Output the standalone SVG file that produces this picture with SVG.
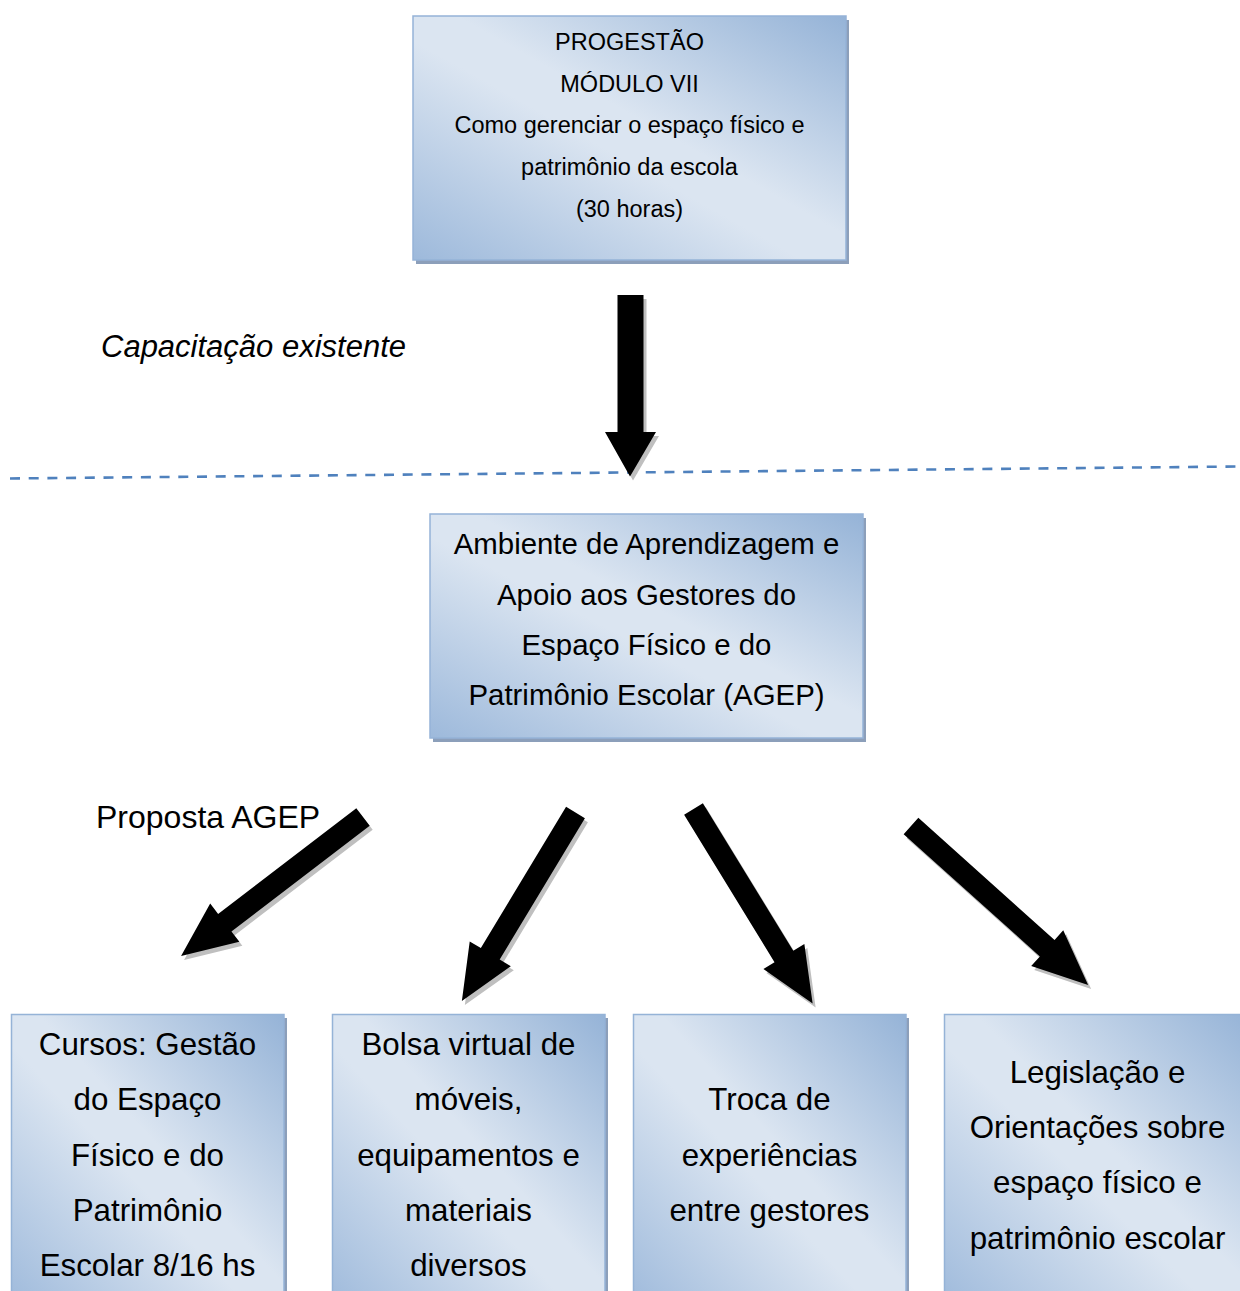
<svg xmlns="http://www.w3.org/2000/svg" xmlns:xlink="http://www.w3.org/1999/xlink" width="1240" height="1291" viewBox="0 0 1240 1291">
  <style>
    text { font-family: "Liberation Sans", Arial, sans-serif; fill: #000; text-anchor: middle; }
    .t1 { font-size: 23.5px; }
    .t2 { font-size: 29.4px; }
    .t3 { font-size: 31.3px; }
    .lbl { font-size: 31px; text-anchor: start; }
    .box { fill: url(#grad); stroke: #95B3D7; stroke-width: 1.5; }
    .shadow { fill: #8C9FBA; }
    .arrow { fill: #000; }
    .ashadow { fill: #BFBFBF; }
  </style>
  <defs>
    <linearGradient id="grad" x1="1" y1="0" x2="0" y2="1">
      <stop offset="0" stop-color="#95B3D7"/>
      <stop offset="0.45" stop-color="#DBE5F1"/>
      <stop offset="0.55" stop-color="#DBE5F1"/>
      <stop offset="1" stop-color="#9DB9DB"/>
    </linearGradient>
    <polygon id="a-main" points="617.5,295 643.5,295 643.5,432 656,432 630,476.5 605,432 617.5,432"/>
    <polygon id="a1" transform="translate(363,817) rotate(142.6)" points="0,-11 174,-11 174,-24 229,0 174,24 174,11 0,11"/>
    <polygon id="a2" transform="translate(575.5,812.5) rotate(121.1)" points="0,-11 165,-11 165,-24 220,0 165,24 165,11 0,11"/>
    <polygon id="a3" transform="translate(693.5,809) rotate(58.5)" points="0,-11 173,-11 173,-24 228,0 173,24 173,11 0,11"/>
    <polygon id="a4" transform="translate(911,826) rotate(41.9)" points="0,-11 183,-11 183,-24 238,0 183,24 183,11 0,11"/>
  </defs>

  <rect width="1240" height="1291" fill="#FFFFFF"/>

  <!-- separator -->
  <line x1="10" y1="478.5" x2="1240" y2="466.5" stroke="#4F81BD" stroke-width="2.6" stroke-dasharray="10 8.7"/>

  <!-- connectors -->
  <g id="connectors">
    <g transform="translate(3,4)" class="ashadow">
      <use xlink:href="#a-main"/>
      <use xlink:href="#a1"/>
      <use xlink:href="#a2"/>
      <use xlink:href="#a3"/>
      <use xlink:href="#a4"/>
    </g>
    <g class="arrow">
      <use xlink:href="#a-main"/>
      <use xlink:href="#a1"/>
      <use xlink:href="#a2"/>
      <use xlink:href="#a3"/>
      <use xlink:href="#a4"/>
    </g>
  </g>

  <!-- labels -->
  <text class="lbl" x="101" y="357" font-style="italic">Capacitação existente</text>
  <text class="lbl" x="96" y="828" style="font-size:32px">Proposta AGEP</text>

  <g id="node-progestao">
    <rect class="shadow" x="416" y="20" width="433" height="244"/>
    <rect class="box" x="413" y="16" width="433" height="244"/>
    <text class="t1" x="629.5" y="50">PROGESTÃO</text>
    <text class="t1" x="629.5" y="91.7">MÓDULO VII</text>
    <text class="t1" x="629.5" y="133.4">Como gerenciar o espaço físico e</text>
    <text class="t1" x="629.5" y="175.1">patrimônio da escola</text>
    <text class="t1" x="629.5" y="216.8">(30 horas)</text>
  </g>

  <g id="node-agep">
    <rect class="shadow" x="433" y="518" width="433" height="224"/>
    <rect class="box" x="430" y="514" width="433" height="224"/>
    <text class="t2" x="646.5" y="554">Ambiente de Aprendizagem e</text>
    <text class="t2" x="646.5" y="604.5">Apoio aos Gestores do</text>
    <text class="t2" x="646.5" y="654.8">Espaço Físico e do</text>
    <text class="t2" x="646.5" y="705">Patrimônio Escolar (AGEP)</text>
  </g>

  <g id="node-cursos">
    <rect class="shadow" x="14.5" y="1018" width="272.5" height="300"/>
    <rect class="box" x="11.5" y="1014.5" width="272.5" height="300"/>
    <text class="t3" x="147.5" y="1055">Cursos: Gestão</text>
    <text class="t3" x="147.5" y="1110.3">do Espaço</text>
    <text class="t3" x="147.5" y="1165.5">Físico e do</text>
    <text class="t3" x="147.5" y="1220.8">Patrimônio</text>
    <text class="t3" x="147.5" y="1276">Escolar 8/16 hs</text>
  </g>

  <g id="node-bolsa">
    <rect class="shadow" x="335.5" y="1018" width="272.5" height="300"/>
    <rect class="box" x="332.5" y="1014.5" width="272.5" height="300"/>
    <text class="t3" x="468.5" y="1055">Bolsa virtual de</text>
    <text class="t3" x="468.5" y="1110.3">móveis,</text>
    <text class="t3" x="468.5" y="1165.5">equipamentos e</text>
    <text class="t3" x="468.5" y="1220.8">materiais</text>
    <text class="t3" x="468.5" y="1276">diversos</text>
  </g>

  <g id="node-troca">
    <rect class="shadow" x="636.5" y="1018" width="272.5" height="300"/>
    <rect class="box" x="633.5" y="1014.5" width="272.5" height="300"/>
    <text class="t3" x="769.5" y="1110.3">Troca de</text>
    <text class="t3" x="769.5" y="1165.5">experiências</text>
    <text class="t3" x="769.5" y="1220.8">entre gestores</text>
  </g>

  <g id="node-legislacao">
    <rect class="shadow" x="947.5" y="1018" width="306" height="300"/>
    <rect class="box" x="944.5" y="1014.5" width="306" height="300"/>
    <text class="t3" x="1097.5" y="1082.5">Legislação e</text>
    <text class="t3" x="1097.5" y="1137.9">Orientações sobre</text>
    <text class="t3" x="1097.5" y="1193.2">espaço físico e</text>
    <text class="t3" x="1097.5" y="1248.5">patrimônio escolar</text>
  </g>
</svg>
